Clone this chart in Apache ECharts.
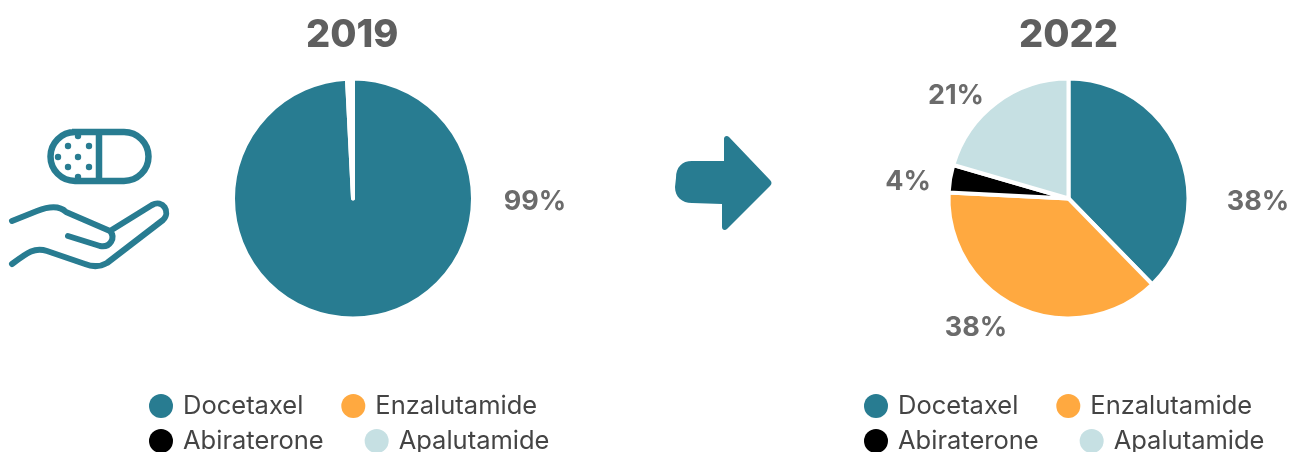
<!DOCTYPE html>
<html><head><meta charset="utf-8">
<style>html,body{margin:0;padding:0;background:#fff}#c{width:1293px;height:452px}</style>
<script src="https://cdn.jsdelivr.net/npm/echarts@6/dist/echarts.min.js"></script>
</head><body><div id="c"></div>
<script>
const drugs = ['Docetaxel','Enzalutamide','Abiraterone','Apalutamide'];
const colors = ['#287c91','#ffa940','#000000','#c6e0e3'];
const names2019 = ['Docetaxel','Other'];
const colors2019 = ['#287c91','#ffffff'];
const values2019 = [99.2, 0.8];
const labels2019 = ['99%',''];
const values2022 = [37.7, 38.1, 3.7, 20.5];
const labels2022 = ['38%','38%','4%','21%'];
const TEAL = colors[0];

const paths = {
  arrowIcon:'M676 178 C676 167 682 161 692 161 L724 161 L724 139 C724 136 727 135 729 137 L770 180 C772 182 772 184 770 186 L727 229 C725 231 722 230 722 227 L722 204 L692 203 C682 203 675 197 675 187 Z',
  pillIcon:'M72 132 H124 A24.5 24.5 0 0 1 124 181 H75 A24.5 24.5 0 0 1 75 132 Z M99 132 V181',
  handIcon:'M12 221 L37 211 C50 206 60 206 66 212 L110 231 M68 236 L100 246 C110 248 116 238 110 231 L152 205 C163 199 171 212 163 220 L107 263 C98 268 90 266 85 264 L47 251 C35 247 28 252 12 264'
};
Object.keys(paths).forEach(k=>echarts.graphic.registerShape(k, echarts.graphic.extendPath(paths[k],{})));

const chart = echarts.init(document.getElementById('c'), null, {renderer:'canvas'});
const titleFont = 'Inter';
const labelStyle = {fontFamily:titleFont,fontWeight:700,fontSize:27,color:'#6b6b6b'};

const graphics = [
  {type:'arrowIcon',style:{fill:TEAL}},
  {type:'pillIcon',style:{fill:'none',stroke:TEAL,lineWidth:6.5}},
  {type:'handIcon',style:{fill:'none',stroke:TEAL,lineWidth:6,lineCap:'round',lineJoin:'round'}}
];
[[68,146],[89,146],[58,157],[78,157],[68,167],[89,167],[78,136],[78,177]].forEach(d=>graphics.push(
  {type:'circle',shape:{cx:d[0],cy:d[1],r:3.2},style:{fill:TEAL}}));

function pieSeries(names, cols, values, cx, name, labels, pos){
  return {
    type:'pie', name, radius:[0,120], center:[cx,198.5], startAngle:90, clockwise:true,
    minAngle:0, avoidLabelOverlap:false, animation:false,
    itemStyle:{borderColor:'#fff',borderWidth:4},
    emphasis:{disabled:true},
    data: names.map((n,i)=>({name:n,value:values[i],itemStyle:{color:cols[i]},
      label:{show:!!labels[i],formatter:labels[i]||'',...labelStyle},labelLine:{show:false}})),
    labelLayout:(p)=>{const q=pos[p.dataIndex];return q?{x:q[0],y:q[1],align:'center',verticalAlign:'middle'}:{};}
  };
}
function legendRow(left, top, gap, items){
  return {left,top,orient:'horizontal',itemGap:gap,itemWidth:24,itemHeight:24,icon:'circle',padding:0,
    itemStyle:{borderWidth:0},
    textStyle:{fontFamily:'Inter',fontSize:25.5,color:'#444',padding:[3,0,0,5]},selectedMode:false,data:items};
}
const option = {
  backgroundColor:'#fff',
  animation:false,
  title:[
    {text:'2019',left:301,top:12,textStyle:{fontFamily:titleFont,fontWeight:800,fontSize:38,color:'#5f5f5f'}},
    {text:'2022',left:1014,top:12,textStyle:{fontFamily:titleFont,fontWeight:800,fontSize:38,color:'#5f5f5f'}}
  ],
  legend:[
    legendRow(149,393,38,drugs.slice(0,2)),
    legendRow(149,428,41,drugs.slice(2)),
    legendRow(864,393,38,drugs.slice(0,2)),
    legendRow(864,428,41,drugs.slice(2))
  ],
  series:[
    pieSeries(names2019,colors2019,values2019,353,'2019',labels2019,[[535,202]]),
    pieSeries(drugs,colors,values2022,1068.5,'2022',labels2022,[[1258,202],[976,328],[908,182],[956,96]])
  ],
  graphic:graphics
};
chart.setOption(option);
</script></body></html>
